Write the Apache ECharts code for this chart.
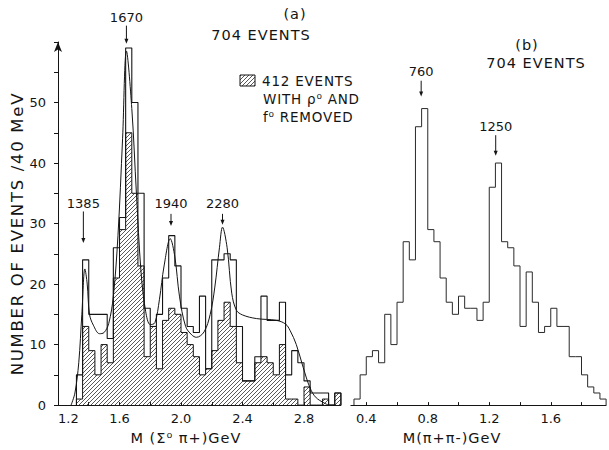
<!DOCTYPE html>
<html>
<head>
<meta charset="utf-8">
<script src="https://cdn.jsdelivr.net/npm/echarts@6/dist/echarts.min.js"></script>
<style>
  html, body { margin: 0; padding: 0; background: #fff; }
  #chart { width: 609px; height: 450px; }
  /* the old lettering is widely spaced */
  #chart text[style*="14.5px"] { letter-spacing: 1px; }
  #chart text[style*="13.5px"] { letter-spacing: 0.8px; }
  #chart text[style*="16.5px"] { letter-spacing: 1.7px; }
</style>
</head>
<body>
<div id="chart"></div>
<script>
// 40 MeV bins
var binW = 0.04;

// (a) M(Sigma0 pi+), left bin edges start at 1.32
var sigmaStart = 1.32;
var sigmaAll = [5, 24, 15, 15, 15, 11, 26, 31, 59, 50, 35, 16, 13, 15, 21, 28, 23, 16, 13, 12,
                18, 6, 24, 24, 25, 24, 13, 4, 4, 8, 18, 14, 14, 17, 5, 9, 7, 4, 2, 2, 2, 0, 2];
var sigmaCut = [1, 13, 9, 5, 10, 7, 21, 29, 45, 35, 23, 8, 13, 6, 14, 16, 15, 12, 10, 8,
                5, 6, 9, 14, 17, 13, 7, 4, 4, 7, 8, 7, 5, 10, 1, 1, 0, 3, 0, 0, 1, 0, 2];

// fitted curve
var fitX = [1.285, 1.31, 1.335, 1.355, 1.375, 1.39, 1.405, 1.43, 1.47, 1.50, 1.53, 1.56, 1.59, 1.62, 1.645,
            1.68, 1.71, 1.74, 1.77, 1.80, 1.83, 1.86, 1.89, 1.93, 1.96, 1.99, 2.03, 2.07, 2.10, 2.15,
            2.19, 2.22, 2.25, 2.27, 2.30, 2.33, 2.36, 2.40, 2.49, 2.62, 2.68, 2.71, 2.75, 2.795, 2.84, 2.88, 2.95];
var fitY = [0, 2, 7, 15, 22.5, 20, 15, 13.2, 11.8, 12, 13.5, 18, 28, 44, 58.5,
            49, 35, 22, 15.5, 13.3, 13.6, 17.5, 23, 27.5, 24.5, 18, 13, 11.6, 11.2, 12.1,
            15, 19.5, 26, 29.4, 26, 18.5, 15.7, 14.9, 14.3, 14, 13.4, 12.3, 10, 6.2, 2.8, 1.2, 0.1];

// (b) M(pi+ pi-), left bin edges start at 0.32
var pipiStart = 0.32;
var pipiAll = [1, 5, 8, 9, 7, 15, 10, 17, 27, 24, 46, 49, 29, 27, 21, 17, 15, 18, 16, 16,
               14, 17, 36, 40, 27, 26, 23, 13, 22, 17, 12, 13, 16, 13, 13, 8, 8, 5, 3, 2, 1];

// axis ticks / labels
var ticksA = [1.4, 1.6, 1.8, 2.0, 2.2, 2.4, 2.6, 2.8];
var labelsA = [1.2, 1.6, 2.0, 2.4, 2.8];
var ticksB = [0.4, 0.6, 0.8, 1.0, 1.2, 1.4, 1.6, 1.8];
var labelsB = [0.4, 0.8, 1.2, 1.6];

// peak annotations: x, arrow from, arrow to, label y (data units)
var peakNamesA = ['1385', '1670', '1940', '2280'];
var peakA = [[1.365, 32, 26.8, 33.3], [1.645, 62.7, 59.7, 64.1], [1.935, 31.6, 29.6, 33.3], [2.27, 31.6, 29.8, 33.3]];
var peakNamesB = ['760', '1250'];
var peakB = [[0.757, 53.6, 51.0, 55.1], [1.242, 44.6, 41.2, 46]];

var FONT = 'DejaVu Sans';
var INK = '#141414';

function stepPoints(start, values) {
  var pts = [[start, 0]];
  values.forEach(function (v, i) {
    var x0 = +(start + i * binW).toFixed(2);
    pts.push([x0, v], [+(x0 + binW).toFixed(2), v]);
  });
  pts.push([+(start + values.length * binW).toFixed(2), 0]);
  return pts;
}

function hatchTile() {
  var c = document.createElement('canvas');
  c.width = 4; c.height = 4;
  var g = c.getContext('2d');
  g.strokeStyle = '#222';
  g.lineWidth = 0.75;
  g.beginPath();
  g.moveTo(-1, 5); g.lineTo(5, -1);
  g.moveTo(-1, 1); g.lineTo(1, -1);
  g.moveTo(3, 5); g.lineTo(5, 3);
  g.stroke();
  return c;
}
var hatch = { image: hatchTile(), repeat: 'repeat', imageWidth: 4, imageHeight: 4 };

function arrowRenderer(names) {
  return function (params, api) {
    var top = api.coord([api.value(0), api.value(1)]);
    var tip = api.coord([api.value(0), api.value(2)]);
    var lab = api.coord([api.value(0), api.value(3)]);
    return {
      type: 'group',
      children: [
        { type: 'line', shape: { x1: top[0], y1: top[1], x2: tip[0], y2: tip[1] - 3 },
          style: { stroke: INK, lineWidth: 1 } },
        { type: 'polygon', shape: { points: [[tip[0] - 2, tip[1] - 5], [tip[0] + 2, tip[1] - 5], [tip[0], tip[1]]] },
          style: { fill: INK } },
        { type: 'text', x: lab[0], y: lab[1],
          style: { text: names[params.dataIndex], fill: INK, fontSize: 13, fontFamily: FONT,
                   align: 'center', verticalAlign: 'middle', textAlign: 'center', textVerticalAlign: 'middle' } }
      ]
    };
  };
}

var chart = echarts.init(document.getElementById('chart'), null, { renderer: 'svg' });

var axisText = { color: INK, fontFamily: FONT, fontSize: 13 };

var option = {
  animation: false,
  backgroundColor: '#fff',
  grid: [
    { left: 58, top: 42, width: 282.9, bottom: 43 },
    { left: 350.9, top: 42, width: 255.2, bottom: 43 }
  ],
  xAxis: [
    {
      type: 'value', gridIndex: 0, min: 1.2, max: 3.04,
      axisLine: { lineStyle: { color: INK, width: 1 } },
      axisTick: { inside: true, length: 3, customValues: ticksA, lineStyle: { color: INK } },
      axisLabel: Object.assign({ customValues: labelsA, margin: 7, alignMinLabel: 'left',
        formatter: function (v) { return v.toFixed(1); } }, axisText),
      splitLine: { show: false },
      name: 'M (Σ⁰ π+)GeV', nameLocation: 'middle', nameGap: 23,
      nameTextStyle: { color: INK, fontFamily: FONT, fontSize: 14.5, padding: [0, 27, 0, 0] }
    },
    {
      type: 'value', gridIndex: 1, min: 0.3, max: 1.96,
      axisLine: { lineStyle: { color: INK, width: 1 } },
      axisTick: { inside: true, length: 3, customValues: ticksB, lineStyle: { color: INK } },
      axisLabel: Object.assign({ customValues: labelsB, margin: 7,
        formatter: function (v) { return v.toFixed(1); } }, axisText),
      splitLine: { show: false },
      name: 'M(π+π-)GeV', nameLocation: 'middle', nameGap: 23,
      nameTextStyle: { color: INK, fontFamily: FONT, fontSize: 14.5, padding: [0, 53, 0, 0] }
    }
  ],
  yAxis: [
    {
      type: 'value', gridIndex: 0, min: 0, max: 60, interval: 5,
      axisLine: { show: true, symbol: ['none', 'arrow'], symbolSize: [6, 10], lineStyle: { color: INK, width: 1 } },
      axisTick: { show: true, length: 4, lineStyle: { color: INK } },
      axisLabel: Object.assign({ margin: 12,
        formatter: function (v) { return (v % 10 === 0 && v < 60) ? String(v) : ''; } }, axisText),
      splitLine: { show: false },
      name: 'NUMBER OF EVENTS /40 MeV', nameLocation: 'middle', nameRotate: 90, nameGap: 29,
      nameTextStyle: { color: INK, fontFamily: FONT, fontSize: 16.5, padding: [0, 20, 0, 0] }
    },
    { type: 'value', gridIndex: 1, min: 0, max: 60, show: false }
  ],
  series: [
    {
      name: '412 EVENTS', type: 'line', xAxisIndex: 0, yAxisIndex: 0,
      data: stepPoints(sigmaStart, sigmaCut), symbol: 'none',
      lineStyle: { color: INK, width: 1 },
      areaStyle: { color: hatch, opacity: 1 }, z: 2
    },
    {
      name: '704 EVENTS', type: 'line', xAxisIndex: 0, yAxisIndex: 0,
      data: stepPoints(sigmaStart, sigmaAll), symbol: 'none',
      lineStyle: { color: INK, width: 1.1 }, z: 3
    },
    {
      name: 'fit', type: 'line', xAxisIndex: 0, yAxisIndex: 0,
      data: fitX.map(function (x, i) { return [x, fitY[i]]; }),
      symbol: 'none', smooth: 0.35, lineStyle: { color: INK, width: 1 }, z: 4
    },
    {
      name: 'pipi', type: 'line', xAxisIndex: 1, yAxisIndex: 1,
      data: stepPoints(pipiStart, pipiAll), symbol: 'none',
      lineStyle: { color: '#2a2a2a', width: 1 }, z: 3
    },
    {
      type: 'custom', xAxisIndex: 0, yAxisIndex: 0, clip: false, silent: true, z: 5,
      data: peakA, renderItem: arrowRenderer(peakNamesA)
    },
    {
      type: 'custom', xAxisIndex: 1, yAxisIndex: 1, clip: false, silent: true, z: 5,
      data: peakB, renderItem: arrowRenderer(peakNamesB)
    }
  ],
  graphic: [
    { type: 'text', x: 295, y: 14, style: { text: '(a)', fill: INK, fontFamily: FONT, fontSize: 14.5, align: 'center', verticalAlign: 'middle' } },
    { type: 'text', x: 261, y: 35, style: { text: '704 EVENTS', fill: INK, fontFamily: FONT, fontSize: 14.5, align: 'center', verticalAlign: 'middle' } },
    { type: 'text', x: 527, y: 45, style: { text: '(b)', fill: INK, fontFamily: FONT, fontSize: 14.5, align: 'center', verticalAlign: 'middle' } },
    { type: 'text', x: 536, y: 63, style: { text: '704 EVENTS', fill: INK, fontFamily: FONT, fontSize: 14.5, align: 'center', verticalAlign: 'middle' } },
    { type: 'rect', shape: { x: 240, y: 75, width: 15, height: 11 }, style: { fill: hatch, stroke: INK, lineWidth: 1 } },
    { type: 'text', x: 262, y: 81, style: { text: '412 EVENTS', fill: INK, fontFamily: FONT, fontSize: 13.5, align: 'left', verticalAlign: 'middle' } },
    { type: 'text', x: 263, y: 99, style: { text: 'WITH ρ⁰ AND', fill: INK, fontFamily: FONT, fontSize: 13.5, align: 'left', verticalAlign: 'middle' } },
    { type: 'text', x: 263, y: 117, style: { text: 'f⁰ REMOVED', fill: INK, fontFamily: FONT, fontSize: 13.5, align: 'left', verticalAlign: 'middle' } }
  ]
};

chart.setOption(option);
</script>
</body>
</html>
